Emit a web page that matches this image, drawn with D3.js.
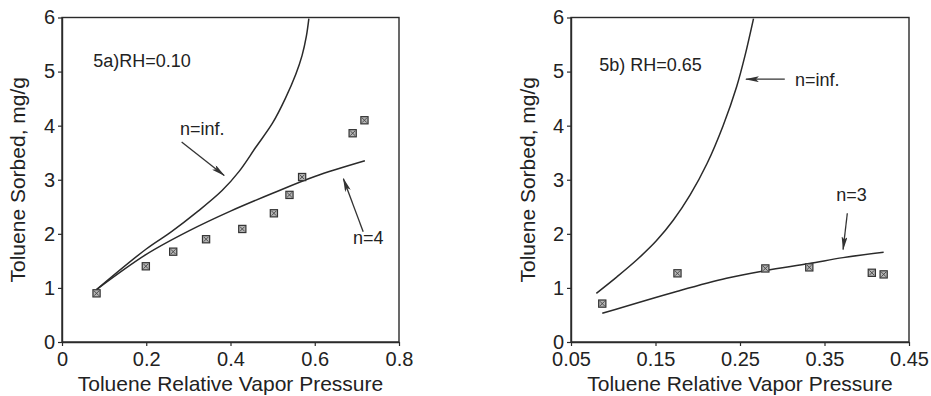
<!DOCTYPE html>
<html>
<head>
<meta charset="utf-8">
<script src="https://cdn.jsdelivr.net/npm/d3@7"></script>
<style>
  body { margin: 0; background: #fff; }
  svg { display: block; }
  text { font-family: "Liberation Sans", Arial, Helvetica, sans-serif; fill: #222; }
</style>
</head>
<body>
<svg id="chart" width="931" height="396"></svg>
<script>
// ---- Panel 5a: RH = 0.10 ----
const aMeasuredX = [0.082, 0.199, 0.264, 0.342, 0.428, 0.503, 0.540, 0.570, 0.690, 0.718];
const aMeasuredY = [0.90, 1.40, 1.67, 1.90, 2.09, 2.38, 2.72, 3.05, 3.86, 4.10];
const aInfX = [0.082, 0.20, 0.26, 0.32, 0.38, 0.42, 0.46, 0.50, 0.53, 0.555, 0.57, 0.58, 0.586];
const aInfY = [0.97, 1.72, 2.04, 2.40, 2.80, 3.15, 3.60, 4.05, 4.50, 4.95, 5.30, 5.65, 5.98];
const aN4X = [0.082, 0.20, 0.30, 0.40, 0.50, 0.60, 0.719];
const aN4Y = [0.97, 1.62, 2.05, 2.42, 2.75, 3.06, 3.35];
const aXTicks = [0, 0.2, 0.4, 0.6, 0.8];
const aXTickLabels = ["0", "0.2", "0.4", "0.6", "0.8"];

// ---- Panel 5b: RH = 0.65 ----
const bMeasuredX = [0.087, 0.176, 0.280, 0.332, 0.406, 0.420];
const bMeasuredY = [0.71, 1.27, 1.36, 1.38, 1.28, 1.25];
const bInfX = [0.080, 0.104, 0.128, 0.151, 0.171, 0.191, 0.211, 0.230, 0.246, 0.256, 0.266];
const bInfY = [0.90, 1.20, 1.52, 1.87, 2.25, 2.72, 3.30, 4.00, 4.72, 5.30, 5.98];
const bN3X = [0.087, 0.176, 0.234, 0.280, 0.332, 0.372, 0.420];
const bN3Y = [0.53, 0.94, 1.18, 1.32, 1.45, 1.56, 1.66];
const bXTicks = [0.05, 0.15, 0.25, 0.35, 0.45];
const bXTickLabels = ["0.05", "0.15", "0.25", "0.35", "0.45"];

// ---- shared ----
const yTicks = [0, 1, 2, 3, 4, 5, 6];
const yTickLabels = ["0", "1", "2", "3", "4", "5", "6"];
const xTitle = "Toluene Relative Vapor Pressure";
const yTitle = "Toluene Sorbed, mg/g";

const aLabels = [
  { text: "5a)RH=0.10", x: 0.074, y: 5.09 },
  { text: "n=inf.", x: 0.280, y: 3.82 },
  { text: "n=4", x: 0.691, y: 1.82 }
];
const aArrows = [
  { x1: 0.284, y1: 3.70, x2: 0.385, y2: 3.08 },
  { x1: 0.715, y1: 2.04, x2: 0.668, y2: 3.02 }
];
const bLabels = [
  { text: "5b) RH=0.65", x: 0.0835, y: 5.02 },
  { text: "n=inf.", x: 0.315, y: 4.73 },
  { text: "n=3", x: 0.364, y: 2.60 }
];
const bArrows = [
  { x1: 0.303, y1: 4.86, x2: 0.257, y2: 4.86 },
  { x1: 0.377, y1: 2.38, x2: 0.372, y2: 1.71 }
];

const svg = d3.select("#chart");
svg.append("rect").attr("width", 931).attr("height", 396).attr("fill", "#fff");

const defs = svg.append("defs");
defs.append("marker")
  .attr("id", "head")
  .attr("viewBox", "0 0 14 6")
  .attr("refX", 13).attr("refY", 3)
  .attr("markerUnits", "userSpaceOnUse")
  .attr("markerWidth", 14).attr("markerHeight", 6)
  .attr("orient", "auto")
  .append("path").attr("d", "M0,0 L14,3 L0,6 L3,3 Z").attr("fill", "#333");

const ink = "#2a2a2a";

function panel(cfg) {
  const x = d3.scaleLinear().domain(cfg.xDomain).range([cfg.left, cfg.right]);
  const y = d3.scaleLinear().domain([0, 6]).range([342, 17.5]);
  const g = svg.append("g");

  // frame
  g.append("rect")
    .attr("x", cfg.left).attr("y", 17.5)
    .attr("width", cfg.right - cfg.left).attr("height", 342 - 17.5)
    .attr("fill", "none").attr("stroke", ink).attr("stroke-width", 1.4);

  // axes
  const xa = g.append("g").attr("transform", "translate(0,342)")
    .call(d3.axisBottom(x).tickValues(cfg.xTicks)
      .tickFormat((d, i) => cfg.xTickLabels[i])
      .tickSize(4).tickSizeOuter(0).tickPadding(6));
  const ya = g.append("g").attr("transform", `translate(${cfg.left},0)`)
    .call(d3.axisLeft(y).tickValues(yTicks)
      .tickFormat((d, i) => yTickLabels[i])
      .tickSize(4).tickSizeOuter(0).tickPadding(3));
  [xa, ya].forEach(a => {
    a.attr("font-size", null).attr("font-family", null);
    a.select(".domain").attr("stroke", ink).attr("stroke-width", 1.4);
    a.selectAll(".tick line").attr("stroke", ink).attr("stroke-width", 1.2);
    a.selectAll(".tick text").attr("fill", "#222").style("font-size", "20px");
  });

  // axis titles
  g.append("text")
    .attr("x", (cfg.left + cfg.right) / 2).attr("y", 391)
    .attr("text-anchor", "middle").style("font-size", "21px")
    .text(xTitle);
  g.append("text")
    .attr("transform", `translate(${cfg.yTitleX},${(17.5 + 342) / 2}) rotate(-90)`)
    .attr("text-anchor", "middle").style("font-size", "21px")
    .text(yTitle);

  // model curves
  const line = d3.line().x(d => x(d[0])).y(d => y(d[1])).curve(d3.curveCatmullRom.alpha(0.5));
  cfg.curves.forEach(c => {
    g.append("path")
      .datum(c.xs.map((v, i) => [v, c.ys[i]]))
      .attr("d", line)
      .attr("fill", "none").attr("stroke", ink).attr("stroke-width", 1.5);
  });

  // measured points: square with a cross
  const pts = g.selectAll(".pt")
    .data(cfg.px.map((v, i) => [v, cfg.py[i]]))
    .join("g").attr("class", "pt")
    .attr("transform", d => `translate(${x(d[0])},${y(d[1])})`);
  const s = 3.6;
  pts.append("rect")
    .attr("x", -s).attr("y", -s).attr("width", 2 * s).attr("height", 2 * s)
    .attr("fill", "#b5b5b5").attr("stroke", "#333").attr("stroke-width", 1.2);
  pts.append("path")
    .attr("d", `M${-s + 1.2},${-s + 1.2}L${s - 1.2},${s - 1.2}M${s - 1.2},${-s + 1.2}L${-s + 1.2},${s - 1.2}`)
    .attr("stroke", "#444").attr("stroke-width", 0.9);

  // annotations
  cfg.labels.forEach(l => {
    g.append("text").attr("x", x(l.x)).attr("y", y(l.y))
      .style("font-size", "18px").text(l.text);
  });
  cfg.arrows.forEach(a => {
    g.append("line")
      .attr("x1", x(a.x1)).attr("y1", y(a.y1))
      .attr("x2", x(a.x2)).attr("y2", y(a.y2))
      .attr("stroke", "#333").attr("stroke-width", 1.3)
      .attr("marker-end", "url(#head)");
  });
}

panel({
  xDomain: [0, 0.8], left: 62, right: 399, yTitleX: 25,
  xTicks: aXTicks, xTickLabels: aXTickLabels,
  curves: [{ xs: aInfX, ys: aInfY }, { xs: aN4X, ys: aN4Y }],
  px: aMeasuredX, py: aMeasuredY,
  labels: aLabels, arrows: aArrows
});
panel({
  xDomain: [0.05, 0.45], left: 571, right: 909, yTitleX: 535,
  xTicks: bXTicks, xTickLabels: bXTickLabels,
  curves: [{ xs: bInfX, ys: bInfY }, { xs: bN3X, ys: bN3Y }],
  px: bMeasuredX, py: bMeasuredY,
  labels: bLabels, arrows: bArrows
});
</script>
</body>
</html>
